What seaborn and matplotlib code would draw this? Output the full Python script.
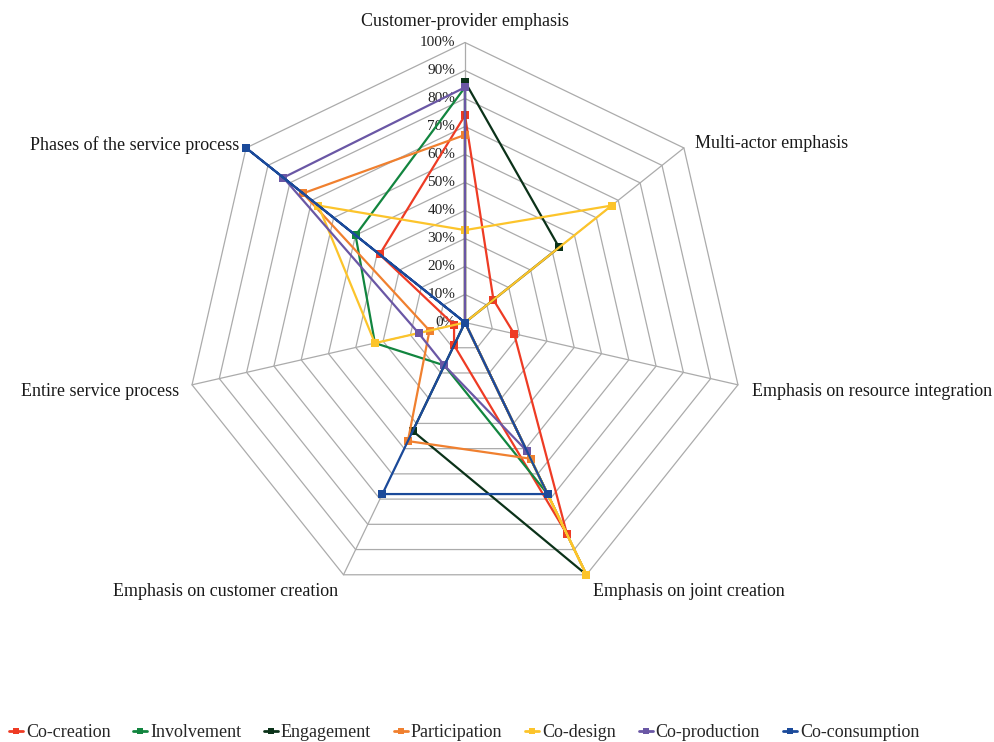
import numpy as np
import pandas as pd
import matplotlib
matplotlib.use("Agg")
import matplotlib.pyplot as plt
from matplotlib.lines import Line2D
import seaborn as sns

# Dimensions of the radar chart, clockwise from the top
dimensions = [
    "Customer-provider emphasis",
    "Multi-actor emphasis",
    "Emphasis on resource integration",
    "Emphasis on joint creation",
    "Emphasis on customer creation",
    "Entire service process",
    "Phases of the service process",
]

# Share (%) of each concept on every dimension
co_creation = [74, 13, 18, 84, 9, 4, 39]
involvement = [84, 0, 0, 68, 17, 33, 50]
engagement = [86, 43, 0, 100, 43, 0, 0]
participation = [67, 0, 0, 54, 47, 13, 74]
co_design = [33, 67, 0, 100, 0, 33, 67]
co_production = [84, 0, 0, 51, 17, 17, 83]
co_consumption = [0, 0, 0, 68, 68, 0, 100]

series_names = ["Co-creation", "Involvement", "Engagement", "Participation",
                "Co-design", "Co-production", "Co-consumption"]
series_values = [co_creation, involvement, engagement, participation,
                 co_design, co_production, co_consumption]
series_colors = ["#EE3B24", "#12853F", "#0B3219", "#F0802F",
                 "#FCC42B", "#6A57A5", "#1B4A9A"]

tick_levels = list(range(0, 101, 10))
tick_labels = [f"{v}%" for v in tick_levels]

sns.set_theme(style="white")
plt.rcParams["font.family"] = ["Liberation Serif", "DejaVu Serif"]

n = len(dimensions)
angles = np.linspace(0, 2 * np.pi, n, endpoint=False)
closed_angles = np.append(angles, 2 * np.pi)

rows = []
for name, vals in zip(series_names, series_values):
    for i, (a, v) in enumerate(zip(closed_angles, vals + vals[:1])):
        rows.append({"series": name, "order": i, "theta": a, "value": v})
df = pd.DataFrame(rows)

fig = plt.figure(figsize=(9.94, 7.42), dpi=100)
ax = fig.add_axes([0.1861, 0.1880, 0.5634, 0.7547], projection="polar")
ax.set_theta_zero_location("N")
ax.set_theta_direction(-1)
ax.set_ylim(0, 100)
ax.grid(False)
ax.set_xticks([])
ax.set_yticks([])
ax.spines["polar"].set_visible(False)
ax.set_facecolor("none")

# Heptagonal grid rings and spokes
for lvl in tick_levels[1:]:
    ax.plot(closed_angles, [lvl] * (n + 1), color="#ABABAB", lw=0.9, zorder=1)
for a in angles:
    ax.plot([a, a], [0, 100], color="#ABABAB", lw=0.9, zorder=1)

palette = dict(zip(series_names, series_colors))
sns.lineplot(data=df, x="theta", y="value", hue="series", units="series",
             estimator=None, sort=False, palette=palette, marker="s",
             markersize=6, markeredgewidth=0, linewidth=1.6,
             legend=False, ax=ax, zorder=3, clip_on=False)
for ln in ax.lines:
    ln.set_clip_on(False)
ax.set_xlabel("")
ax.set_ylabel("")
ax.set_ylim(0, 100)

# Percent labels along the top spoke
for lvl, lab in zip(tick_levels, tick_labels):
    ax.annotate(lab, xy=(0, lvl), xytext=(-7, 0), textcoords="offset points",
                ha="right", va="center", fontsize=11, color="#222222",
                zorder=2)

# Dimension labels
label_cfg = [
    (dict(xytext=(0, 9), ha="center", va="bottom")),
    (dict(xytext=(8, 3), ha="left", va="center")),
    (dict(xytext=(10, -5), ha="left", va="center")),
    (dict(xytext=(5, -12), ha="left", va="center")),
    (dict(xytext=(-4, -12), ha="right", va="center")),
    (dict(xytext=(-9, -5), ha="right", va="center")),
    (dict(xytext=(-5, 2), ha="right", va="center")),
]
for a, txt, cfg in zip(angles, dimensions, label_cfg):
    ax.annotate(txt, xy=(a, 100), textcoords="offset points",
                fontsize=13, color="#1A1A1A", annotation_clip=False, **cfg)

handles = [Line2D([0], [0], color=c, lw=2, marker="s", markersize=5,
                  markeredgewidth=0) for c in series_colors]
fig.legend(handles, series_names, loc="lower left", bbox_to_anchor=(-0.004, -0.016),
           ncol=7, frameon=False, fontsize=13, handlelength=0.8,
           handletextpad=0.15, columnspacing=1.25, borderaxespad=0.3)

fig.savefig("out.png", dpi=100)
